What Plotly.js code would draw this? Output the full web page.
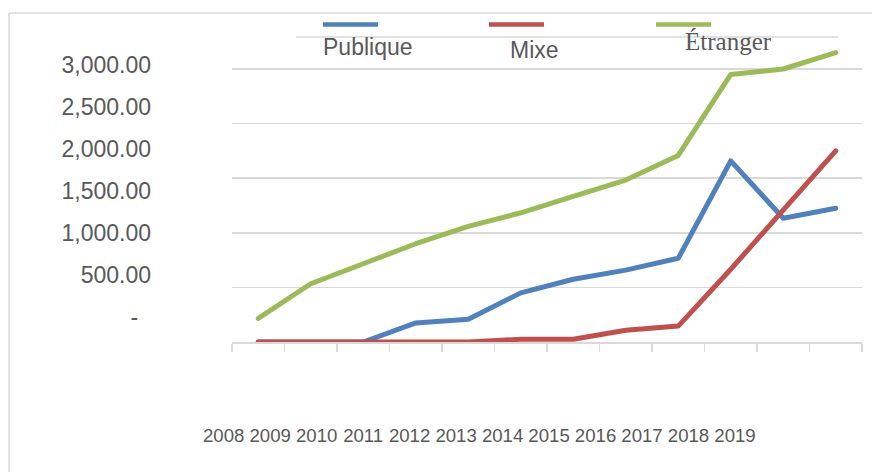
<!DOCTYPE html>
<html>
<head>
<meta charset="utf-8">
<script src="https://cdn.plot.ly/plotly-3.0.1.min.js"></script>
<style>html,body{margin:0;padding:0;background:#fff;}#chart{width:872px;height:472px;}
#chart .scatterlayer path.js-line{stroke-linecap:round;stroke-linejoin:round;}</style>
</head>
<body>
<div id="chart"></div>
<script>
var years = ['2008','2009','2010','2011','2012','2013','2014','2015','2016','2017','2018','2019'];
var seriesNames = ['Publique', 'Mixe', 'Étranger'];
var publique = [0, 0, 0, 210, 250, 540, 690, 790, 920, 1990, 1360, 1470];
var mixe = [0, 0, 0, 0, 0, 30, 30, 130, 175, 800, 1440, 2100];
var etranger = [260, 640, 860, 1080, 1270, 1420, 1600, 1780, 2050, 2940, 3000, 3180];
var yTickVals = [0, 500, 1000, 1500, 2000, 2500, 3000];
var yTickText = ['-\u00a0\u00a0', '500.00', '1,000.00', '1,500.00', '2,000.00', '2,500.00', '3,000.00'];

var colors = ['#4F81BD', '#C0504D', '#9BBB59'];
var W = 872, H = 472;
function px(x){ return x / W; }
function py(y){ return (H - y) / H; }

var seriesData = [publique, mixe, etranger];
var traces = seriesData.map(function(vals, i){
  return {x: years, y: vals, type: 'scatter', mode: 'lines', name: seriesNames[i],
          line: {color: colors[i], width: 5}, xaxis: 'x', yaxis: 'y', hoverinfo: 'x+y+name'};
});
var idx = years.map(function(_, i){ return i; });
var nulls = years.map(function(){ return null; });
// helper traces so the label axes are drawn
traces.push({x: idx, y: nulls, xaxis: 'x3', yaxis: 'y2', mode: 'lines', showlegend: false, hoverinfo: 'skip'});
traces.push({x: idx, y: nulls, xaxis: 'x2', yaxis: 'y3', mode: 'lines', showlegend: false, hoverinfo: 'skip'});

var textColor = '#595959';
var font = 'Liberation Sans, Arial, sans-serif';

var shapes = [
  {type: 'line', xref: 'paper', yref: 'paper', x0: px(9), x1: px(900), y0: py(13), y1: py(13), line: {color: '#d9d9d9', width: 1.5}},
  {type: 'line', xref: 'paper', yref: 'paper', x0: px(9), x1: px(9), y0: py(13), y1: py(500), line: {color: '#d9d9d9', width: 1.5}},
  {type: 'line', xref: 'paper', yref: 'paper', x0: px(296), x1: px(838), y0: py(37), y1: py(37), line: {color: '#d9d9d9', width: 1.5}}
];
var legendX = [[323, 378], [489, 544], [656, 711]];
legendX.forEach(function(p, i){
  shapes.push({type: 'line', xref: 'paper', yref: 'paper', x0: px(p[0]), x1: px(p[1]), y0: py(24.5), y1: py(24.5), line: {color: colors[i], width: 4.5}});
});
var legendText = [[368, 47, 23, font], [534, 50, 23, font], [728, 42, 25, 'Liberation Serif, Times New Roman, serif']];
var annotations = legendText.map(function(t, i){
  return {xref: 'paper', yref: 'paper', x: px(t[0]), y: py(t[1]), text: seriesNames[i], showarrow: false,
          xanchor: 'center', yanchor: 'middle', font: {family: t[3], size: t[2], color: textColor}};
});

var layout = {
  width: W, height: H,
  margin: {l: 0, r: 0, t: 0, b: 0, pad: 0},
  paper_bgcolor: '#ffffff', plot_bgcolor: 'rgba(0,0,0,0)',
  showlegend: false,
  xaxis: {type: 'category', domain: [px(232), px(862)], range: [-0.5, 11.5], anchor: 'y',
          showticklabels: false, tickson: 'boundaries', ticks: 'outside', ticklen: 8, tickwidth: 1.5, tickcolor: '#d9d9d9',
          showline: true, linecolor: '#d9d9d9', linewidth: 1.5, showgrid: false, zeroline: false},
  yaxis: {domain: [py(342), py(30)], range: [0, 3428.6], anchor: 'x', tick0: 0, dtick: 600,
          showticklabels: false, showgrid: true, gridcolor: '#d9d9d9', gridwidth: 1.5, zeroline: false, showline: false, ticks: ''},
  xaxis3: {domain: [px(152), px(156)], range: [0, 1], anchor: 'y2', visible: false},
  yaxis2: {domain: [py(342), py(30)], anchor: 'x3', side: 'left', range: [-297.6, 3416.7],
           tickvals: yTickVals, ticktext: yTickText, showgrid: false, zeroline: false, showline: false, ticks: '',
           tickfont: {family: font, size: 23, color: textColor}},
  yaxis3: {domain: [0, py(447)], range: [0, 1], anchor: 'x2', visible: false},
  xaxis2: {anchor: 'y3', side: 'top', domain: [0, 1], range: [-4.813, 13.948],
           tickvals: idx, ticktext: years, showgrid: false, zeroline: false, showline: false, ticks: '',
           tickfont: {family: font, size: 18.6, color: textColor}},
  shapes: shapes,
  annotations: annotations
};

Plotly.newPlot('chart', traces, layout, {displayModeBar: false, staticPlot: true});
</script>
</body>
</html>
